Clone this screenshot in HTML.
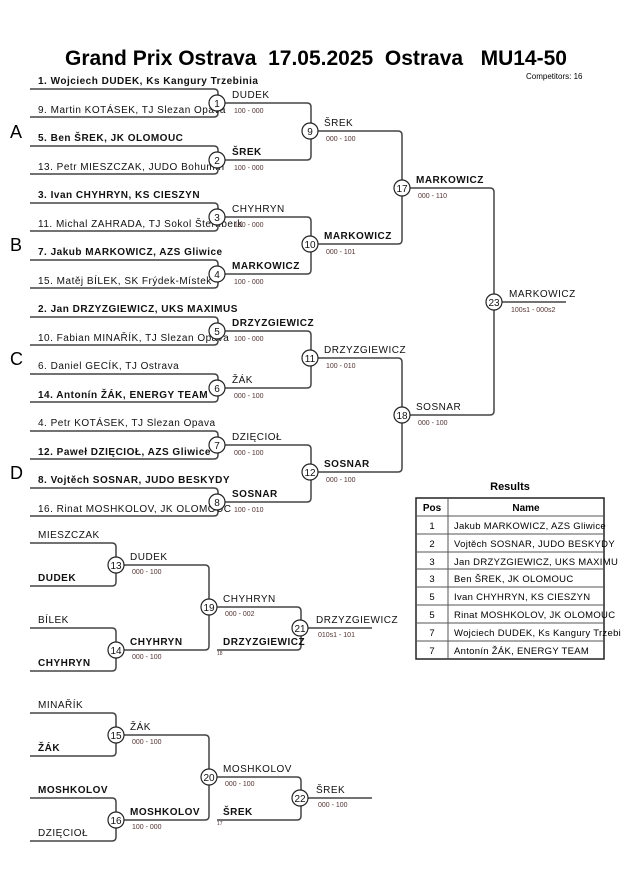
<!DOCTYPE html>
<html><head><meta charset="utf-8"><style>
html,body{margin:0;padding:0;background:#fff;}
svg{display:block;font-family:"Liberation Sans",Arial,sans-serif;}
.n{font-size:10px;fill:#111;letter-spacing:0.5px;}
.b{font-size:10px;font-weight:bold;fill:#111;letter-spacing:0.5px;}
.s{font-size:7px;fill:#533;}
.c{font-size:10px;fill:#111;text-anchor:middle;}
.l{fill:none;stroke:#444;stroke-width:1.5;}
circle{fill:#fff;stroke:#222;stroke-width:1.2;}
</style></head><body>
<svg width="630" height="891" viewBox="0 0 630 891">
<text x="316" y="65" text-anchor="middle" style="font-size:21px;font-weight:bold" xml:space="preserve">Grand Prix Ostrava  17.05.2025  Ostrava   MU14-50</text>
<text x="526" y="79" style="font-size:8px">Competitors: 16</text>
<g style="font-size:18px">
<text x="10" y="138">A</text><text x="10" y="251">B</text><text x="10" y="365">C</text><text x="10" y="479">D</text>
</g>
<g class="l">
<path d="M30 89 H214 q4 0 4 4 V113 q0 4 -4 4 H30"/>
<path d="M30 146 H214 q4 0 4 4 V170 q0 4 -4 4 H30"/>
<path d="M30 203 H214 q4 0 4 4 V227 q0 4 -4 4 H30"/>
<path d="M30 260 H214 q4 0 4 4 V284 q0 4 -4 4 H30"/>
<path d="M30 317 H214 q4 0 4 4 V341 q0 4 -4 4 H30"/>
<path d="M30 374 H214 q4 0 4 4 V398 q0 4 -4 4 H30"/>
<path d="M30 431 H214 q4 0 4 4 V455 q0 4 -4 4 H30"/>
<path d="M30 488 H214 q4 0 4 4 V512 q0 4 -4 4 H30"/>
<path d="M225 103 H307 q4 0 4 4 V156 q0 4 -4 4 H225"/>
<path d="M225 217 H307 q4 0 4 4 V270 q0 4 -4 4 H225"/>
<path d="M225 331 H307 q4 0 4 4 V384 q0 4 -4 4 H225"/>
<path d="M225 445 H307 q4 0 4 4 V498 q0 4 -4 4 H225"/>
<path d="M318 131 H398 q4 0 4 4 V240 q0 4 -4 4 H318"/>
<path d="M318 358 H398 q4 0 4 4 V468 q0 4 -4 4 H318"/>
<path d="M410 188 H490 q4 0 4 4 V411 q0 4 -4 4 H410"/>
<path d="M502 302 H566"/>
<path d="M30 543 H112 q4 0 4 4 V582 q0 4 -4 4 H30"/>
<path d="M30 628 H112 q4 0 4 4 V667 q0 4 -4 4 H30"/>
<path d="M124 565 H205 q4 0 4 4 V646 q0 4 -4 4 H124"/>
<path d="M217 607 H297 q4 0 4 4 V646 q0 4 -4 4 H217"/>
<path d="M308 628 H372"/>
<path d="M30 713 H112 q4 0 4 4 V752 q0 4 -4 4 H30"/>
<path d="M30 798 H112 q4 0 4 4 V837 q0 4 -4 4 H30"/>
<path d="M124 735 H205 q4 0 4 4 V816 q0 4 -4 4 H124"/>
<path d="M217 777 H297 q4 0 4 4 V816 q0 4 -4 4 H217"/>
<path d="M308 798 H372"/>
</g>
<text class="b" x="38" y="84">1. Wojciech DUDEK, Ks Kangury Trzebinia</text>
<text class="n" x="38" y="113">9. Martin KOTÁSEK, TJ Slezan Opava</text>
<text class="b" x="38" y="141">5. Ben ŠREK, JK OLOMOUC</text>
<text class="n" x="38" y="170">13. Petr MIESZCZAK, JUDO Bohumín</text>
<text class="b" x="38" y="198">3. Ivan CHYHRYN, KS CIESZYN</text>
<text class="n" x="38" y="227">11. Michal ZAHRADA, TJ Sokol Šternberk</text>
<text class="b" x="38" y="255">7. Jakub MARKOWICZ, AZS Gliwice</text>
<text class="n" x="38" y="284">15. Matěj BÍLEK, SK Frýdek-Místek</text>
<text class="b" x="38" y="312">2. Jan DRZYZGIEWICZ, UKS MAXIMUS</text>
<text class="n" x="38" y="341">10. Fabian MINAŘÍK, TJ Slezan Opava</text>
<text class="n" x="38" y="369">6. Daniel GECÍK, TJ Ostrava</text>
<text class="b" x="38" y="398">14. Antonín ŽÁK, ENERGY TEAM</text>
<text class="n" x="38" y="426">4. Petr KOTÁSEK, TJ Slezan Opava</text>
<text class="b" x="38" y="455">12. Paweł DZIĘCIOŁ, AZS Gliwice</text>
<text class="b" x="38" y="483">8. Vojtěch SOSNAR, JUDO BESKYDY</text>
<text class="n" x="38" y="512">16. Rinat MOSHKOLOV, JK OLOMOUC</text>
<text class="n" x="232" y="98">DUDEK</text><text class="s" x="234" y="113">100 - 000</text>
<text class="b" x="232" y="155">ŠREK</text><text class="s" x="234" y="170">100 - 000</text>
<text class="n" x="232" y="212">CHYHRYN</text><text class="s" x="234" y="227">100 - 000</text>
<text class="b" x="232" y="269">MARKOWICZ</text><text class="s" x="234" y="284">100 - 000</text>
<text class="b" x="232" y="326">DRZYZGIEWICZ</text><text class="s" x="234" y="341">100 - 000</text>
<text class="n" x="232" y="383">ŽÁK</text><text class="s" x="234" y="398">000 - 100</text>
<text class="n" x="232" y="440">DZIĘCIOŁ</text><text class="s" x="234" y="455">000 - 100</text>
<text class="b" x="232" y="497">SOSNAR</text><text class="s" x="234" y="512">100 - 010</text>
<text class="n" x="324" y="126">ŠREK</text><text class="s" x="326" y="141">000 - 100</text>
<text class="b" x="324" y="239">MARKOWICZ</text><text class="s" x="326" y="254">000 - 101</text>
<text class="n" x="324" y="353">DRZYZGIEWICZ</text><text class="s" x="326" y="368">100 - 010</text>
<text class="b" x="324" y="467">SOSNAR</text><text class="s" x="326" y="482">000 - 100</text>
<text class="b" x="416" y="183">MARKOWICZ</text><text class="s" x="418" y="198">000 - 110</text>
<text class="n" x="416" y="410">SOSNAR</text><text class="s" x="418" y="425">000 - 100</text>
<text class="n" x="509" y="297">MARKOWICZ</text><text class="s" x="511" y="312">100s1 - 000s2</text>
<text class="n" x="38" y="538">MIESZCZAK</text>
<text class="b" x="38" y="581">DUDEK</text>
<text class="n" x="38" y="623">BÍLEK</text>
<text class="b" x="38" y="666">CHYHRYN</text>
<text class="n" x="130" y="560">DUDEK</text><text class="s" x="132" y="574">000 - 100</text>
<text class="b" x="130" y="645">CHYHRYN</text><text class="s" x="132" y="659">000 - 100</text>
<text class="n" x="223" y="602">CHYHRYN</text><text class="s" x="225" y="616">000 - 002</text>
<text class="b" x="223" y="645">DRZYZGIEWICZ</text><text class="s" x="217" y="655" style="font-size:5px">18</text>
<text class="n" x="316" y="623">DRZYZGIEWICZ</text><text class="s" x="318" y="637">010s1 - 101</text>
<text class="n" x="38" y="708">MINAŘÍK</text>
<text class="b" x="38" y="751">ŽÁK</text>
<text class="b" x="38" y="793">MOSHKOLOV</text>
<text class="n" x="38" y="836">DZIĘCIOŁ</text>
<text class="n" x="130" y="730">ŽÁK</text><text class="s" x="132" y="744">000 - 100</text>
<text class="b" x="130" y="815">MOSHKOLOV</text><text class="s" x="132" y="829">100 - 000</text>
<text class="n" x="223" y="772">MOSHKOLOV</text><text class="s" x="225" y="786">000 - 100</text>
<text class="b" x="223" y="815">ŠREK</text><text class="s" x="217" y="825" style="font-size:5px">17</text>
<text class="n" x="316" y="793">ŠREK</text><text class="s" x="318" y="807">000 - 100</text>
<g>
<circle cx="217" cy="103" r="8"/><circle cx="217" cy="160" r="8"/><circle cx="217" cy="217" r="8"/><circle cx="217" cy="274" r="8"/>
<circle cx="217" cy="331" r="8"/><circle cx="217" cy="388" r="8"/><circle cx="217" cy="445" r="8"/><circle cx="217" cy="502" r="8"/>
<circle cx="310" cy="131" r="8"/><circle cx="310" cy="244" r="8"/><circle cx="310" cy="358" r="8"/><circle cx="310" cy="472" r="8"/>
<circle cx="402" cy="188" r="8"/><circle cx="402" cy="415" r="8"/><circle cx="494" cy="302" r="8"/>
<circle cx="116" cy="565" r="8"/><circle cx="116" cy="650" r="8"/><circle cx="209" cy="607" r="8"/><circle cx="300" cy="628" r="8"/>
<circle cx="116" cy="735" r="8"/><circle cx="116" cy="820" r="8"/><circle cx="209" cy="777" r="8"/><circle cx="300" cy="798" r="8"/>
</g>
<g class="c">
<text x="217" y="107">1</text><text x="217" y="164">2</text><text x="217" y="221">3</text><text x="217" y="278">4</text>
<text x="217" y="335">5</text><text x="217" y="392">6</text><text x="217" y="449">7</text><text x="217" y="506">8</text>
<text x="310" y="135">9</text><text x="310" y="248">10</text><text x="310" y="362">11</text><text x="310" y="476">12</text>
<text x="402" y="192">17</text><text x="402" y="419">18</text><text x="494" y="306">23</text>
<text x="116" y="569">13</text><text x="116" y="654">14</text><text x="209" y="611">19</text><text x="300" y="632">21</text>
<text x="116" y="739">15</text><text x="116" y="824">16</text><text x="209" y="781">20</text><text x="300" y="802">22</text>
</g>
<text x="510" y="490" text-anchor="middle" style="font-size:11px;font-weight:bold">Results</text>
<rect x="416" y="498" width="188" height="161" fill="none" stroke="#222" stroke-width="1.5"/>
<g stroke="#555" stroke-width="1">
<line x1="448" y1="498" x2="448" y2="659"/>
<line x1="416" y1="516" x2="604" y2="516"/><line x1="416" y1="534" x2="604" y2="534"/>
<line x1="416" y1="552" x2="604" y2="552"/><line x1="416" y1="569" x2="604" y2="569"/>
<line x1="416" y1="587" x2="604" y2="587"/><line x1="416" y1="605" x2="604" y2="605"/>
<line x1="416" y1="623" x2="604" y2="623"/><line x1="416" y1="641" x2="604" y2="641"/>
</g>
<g style="font-size:10px;font-weight:bold" text-anchor="middle">
<text x="432" y="511">Pos</text><text x="526" y="511">Name</text>
</g>
<g style="font-size:9.5px" text-anchor="middle">
<text x="432" y="529">1</text><text x="432" y="547">2</text><text x="432" y="565">3</text><text x="432" y="582">3</text>
<text x="432" y="600">5</text><text x="432" y="618">5</text><text x="432" y="636">7</text><text x="432" y="654">7</text>
</g>
<g style="font-size:9.5px;letter-spacing:0.3px">
<text x="454" y="529">Jakub MARKOWICZ, AZS Gliwice</text>
<text x="454" y="547">Vojtěch SOSNAR, JUDO BESKYDY</text>
<text x="454" y="565">Jan DRZYZGIEWICZ, UKS MAXIMU</text>
<text x="454" y="582">Ben ŠREK, JK OLOMOUC</text>
<text x="454" y="600">Ivan CHYHRYN, KS CIESZYN</text>
<text x="454" y="618">Rinat MOSHKOLOV, JK OLOMOUC</text>
<text x="454" y="636">Wojciech DUDEK, Ks Kangury Trzebi</text>
<text x="454" y="654">Antonín ŽÁK, ENERGY TEAM</text>
</g>
</svg>
</body></html>
